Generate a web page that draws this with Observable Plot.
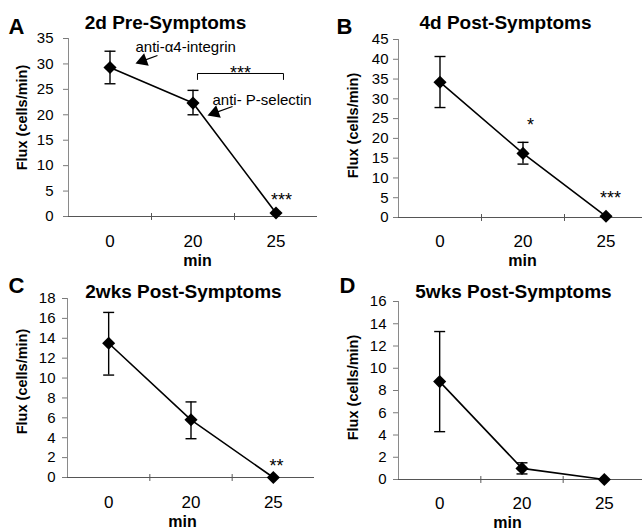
<!DOCTYPE html>
<html>
<head>
<meta charset="utf-8">
<script src="https://cdn.jsdelivr.net/npm/d3@7"></script>
<script src="https://cdn.jsdelivr.net/npm/@observablehq/plot@0.6"></script>
<style>
  html, body { margin: 0; padding: 0; background: #fff; }
  #fig { position: relative; width: 642px; height: 530px; overflow: hidden; background: #fff; }
  #fig > svg { position: absolute; }
  g[aria-label="x-axis"] text, g[aria-label="x-axis tick label"] text { font-size: 17px; }
  g[aria-label="y-axis"] text, g[aria-label="y-axis tick label"] text { font-size: 15px; }
  g[aria-label="y-axis"] line, g[aria-label="y-axis tick"] path { stroke: #7a7a7a; }
</style>
</head>
<body>
<div id="fig"></div>
<script>
// ---- data ----
const minutes = ["0", "20", "25"];

const fluxA = [29.3, 22.3, 0.7];
const lowA  = [26.1, 20.0, null];
const highA = [32.5, 24.8, null];

const fluxB = [34.2, 16.2, 0.3];
const lowB  = [27.8, 13.5, null];
const highB = [40.7, 19.0, null];

const fluxC = [13.5, 5.8, 0.0];
const lowC  = [10.3, 3.9, null];
const highC = [16.6, 7.6, null];

const fluxD = [8.8, 1.0, 0.0];
const lowD  = [4.3, 0.5, null];
const highD = [13.3, 1.5, null];

const yTicksA = [0, 5, 10, 15, 20, 25, 30, 35];
const yTicksB = [0, 5, 10, 15, 20, 25, 30, 35, 40, 45];
const yTicksC = [0, 2, 4, 6, 8, 10, 12, 14, 16, 18];
const yTicksD = [0, 2, 4, 6, 8, 10, 12, 14, 16];

const yLabel = "Flux (cells/min)";
const xLabel = "min";

// ---- layout ----
const FONT = '"Liberation Sans", Arial, Helvetica, sans-serif';
const hline = {draw(ctx, size) { const h = Math.sqrt(size) / 2; ctx.moveTo(-h, 0); ctx.lineTo(h, 0); }};
const vline = {draw(ctx, size) { const h = Math.sqrt(size) / 2; ctx.moveTo(0, -h); ctx.lineTo(0, h); }};

const panels = [
  {letter: "A", title: "2d Pre-Symptoms", flux: fluxA, low: lowA, high: highA, yTicks: yTicksA, yMax: 35,
   left: 0, top: 0, range: [68, 317], mT: 38, mB: 49, tickPad: 10, xPad: 18,
   letterPos: [8, 33], titlePos: [165, 28], yLabelPos: [22, 117], minPos: [197, 265],
   stars: [["***", 281, 205], ["***", 240, 78]],
   notes: [["anti-\u03b14-integrin", 135, 51], ["anti- P-selectin", 212, 104]],
   arrows: [{x1: 0.572, y1: 31.66, x2: 0.395, y2: 30.61, angle: -110},
            {x1: 1.476, y1: 21.63, x2: 1.263, y2: 20.39, angle: -110}],
   bracket: [[1.054, 26.94], [1.054, 28.12], [2.09, 28.12], [2.09, 26.94]]},
  {letter: "B", title: "4d Post-Symptoms", flux: fluxB, low: lowB, high: highB, yTicks: yTicksB, yMax: 45,
   left: 321, top: 0, range: [77, 326], mT: 39, mB: 48, tickPad: 5, xPad: 17,
   letterPos: [15, 33], titlePos: [184, 28], yLabelPos: [32, 125], minPos: [201, 265],
   stars: [["*", 209, 130], ["***", 289, 203]], notes: [], arrows: [], bracket: null},
  {letter: "C", title: "2wks Post-Symptoms", flux: fluxC, low: lowC, high: highC, yTicks: yTicksC, yMax: 18,
   left: 0, top: 265, range: [67, 314], mT: 33, mB: 53, tickPad: 7, xPad: 18,
   letterPos: [8, 27], titlePos: [183, 32], yLabelPos: [22, 116], minPos: [182, 261],
   stars: [["**", 276, 206]], notes: [], arrows: [], bracket: null},
  {letter: "D", title: "5wks Post-Symptoms", flux: fluxD, low: lowD, high: highD, yTicks: yTicksD, yMax: 16,
   left: 321, top: 265, range: [77, 324], mT: 36, mB: 51, tickPad: 7, xPad: 17,
   letterPos: [18, 27], titlePos: [192, 32], yLabelPos: [32, 122], minPos: [186, 262],
   stars: [], notes: [], arrows: [], bracket: null}
];

function makePanel(p) {
  const rows = minutes.map((m, i) => ({i, minute: m, flux: p.flux[i], low: p.low[i], high: p.high[i]}));
  const mL = p.range[0];
  const T = (str, px, py, o = {}) => Plot.text([str], {
    text: d => d, frameAnchor: "top-left", dx: px - mL, dy: py - p.mT,
    textAnchor: "middle", lineAnchor: "bottom", fill: "#000", fontFamily: FONT, ...o
  });
  const marks = [
    Plot.ruleX([-0.5], {y1: 0, y2: p.yMax, stroke: "#8a8a8a", strokeWidth: 1}),
    Plot.ruleY([0], {x1: -0.5, x2: 2.5, stroke: "#555", strokeWidth: 1}),
    Plot.dot([0.5, 1.5], {x: d => d, y: 0, symbol: vline, r: 3.9, fill: "none", stroke: "#555", strokeWidth: 1}),
    Plot.ruleX(rows, {x: "i", y1: "low", y2: "high", stroke: "#000", strokeWidth: 1.4}),
    Plot.dot(rows, {x: "i", y: "low", symbol: hline, r: 6.2, fill: "none", stroke: "#000", strokeWidth: 1.4}),
    Plot.dot(rows, {x: "i", y: "high", symbol: hline, r: 6.2, fill: "none", stroke: "#000", strokeWidth: 1.4}),
    Plot.line(rows, {x: "i", y: "flux", stroke: "#000", strokeWidth: 1.6}),
    Plot.dot(rows, {x: "i", y: "flux", symbol: "diamond2", r: 5.9, fill: "#000", stroke: "none"}),
    T(p.letter, p.letterPos[0], p.letterPos[1], {textAnchor: "start", fontSize: 22, fontWeight: "bold"}),
    T(p.title, p.titlePos[0], p.titlePos[1], {fontSize: 19, fontWeight: "bold"}),
    T(yLabel, p.yLabelPos[0], p.yLabelPos[1], {rotate: -90, lineAnchor: "middle", fontSize: 14.5, fontWeight: "bold"}),
    T(xLabel, p.minPos[0], p.minPos[1], {fontSize: 16, fontWeight: "bold"}),
    ...p.stars.map(([s, px, py]) => T(s, px, py, {fontSize: 18})),
    ...p.notes.map(([s, px, py]) => T(s, px, py, {textAnchor: "start", fontSize: 15}))
  ];
  if (p.arrows.length) {
    marks.push(Plot.link(p.arrows, {x1: "x1", y1: "y1", x2: "x2", y2: "y2", stroke: "#000", strokeWidth: 1.3}));
    marks.push(Plot.dot(p.arrows, {x: "x2", y: "y2", symbol: "triangle", r: 5, rotate: "angle", fill: "#000", stroke: "none"}));
  }
  if (p.bracket) {
    marks.push(Plot.line(p.bracket, {x: d => d[0], y: d => d[1], stroke: "#000", strokeWidth: 1}));
  }
  const svg = Plot.plot({
    width: 321, height: 265,
    marginLeft: mL, marginRight: 0, marginTop: p.mT, marginBottom: p.mB,
    style: {fontFamily: FONT, fontSize: "15px", background: "transparent", overflow: "visible", color: "#000"},
    x: {type: "linear", domain: [-0.5, 2.5], range: p.range, ticks: [0, 1, 2], tickFormat: i => minutes[i],
        tickSize: 0, tickPadding: p.xPad, label: null},
    y: {domain: [0, p.yMax], ticks: p.yTicks, tickSize: 5, tickPadding: p.tickPad, label: null},
    marks
  });
  svg.style.left = p.left + "px";
  svg.style.top = p.top + "px";
  return svg;
}

const fig = document.getElementById("fig");
for (const p of panels) fig.appendChild(makePanel(p));
</script>
</body>
</html>
